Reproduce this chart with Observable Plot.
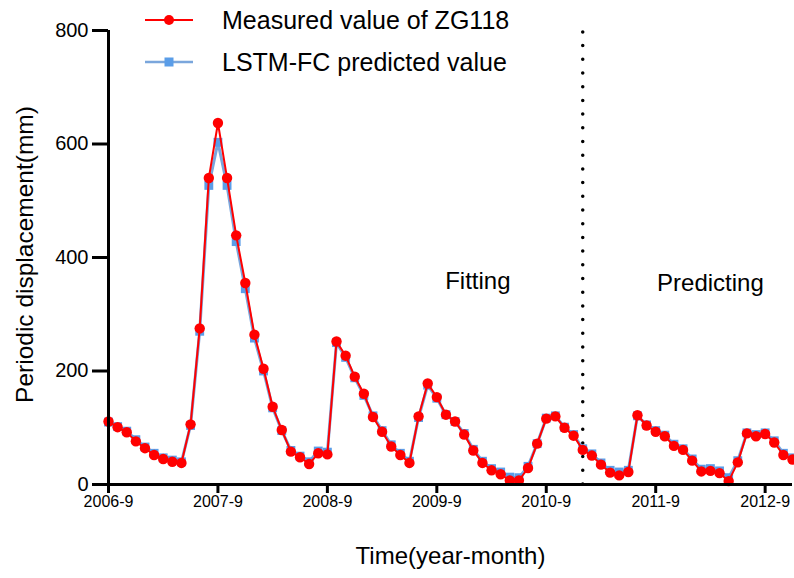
<!DOCTYPE html>
<html>
<head>
<meta charset="utf-8">
<script src="https://cdn.jsdelivr.net/npm/d3@7"></script>
<script src="https://cdn.jsdelivr.net/npm/@observablehq/plot@0.6"></script>
<style>
  html, body { margin: 0; padding: 0; background: #fff; }
  #chart svg { display: block; }
  #chart svg g[aria-label="x-axis tick label"] text { font-size: 16px !important; }
  #chart svg g[aria-label="y-axis tick label"] text { font-size: 20px !important; }
</style>
</head>
<body>
<div id="chart"></div>
<script>
// ---- data (monthly, index 0 = 2006-9) ----
const tickMonths = [0, 12, 24, 36, 48, 60, 72];
const tickLabels = ["2006-9", "2007-9", "2008-9", "2009-9", "2010-9", "2011-9", "2012-9"];
const yTicks = [0, 200, 400, 600, 800];
const splitMonth = 52; // boundary between fitting and predicting
const seriesNames = ["Measured value of ZG118", "LSTM-FC predicted value"];
const annotations = ["Fitting", "Predicting"];
const annotationMonth = [40.5, 66];
const annotationValue = [358, 355];

const measured = [
  111, 101, 92, 76, 64, 52, 45, 40, 38, 106,
  275, 540, 637, 540, 439, 355, 264, 204, 137, 96,
  58, 48, 36, 55, 53, 252, 227, 190, 160, 119,
  93, 67, 52, 38, 120, 178, 154, 123, 111, 88,
  60, 38, 25, 18, 7, 7, 29, 72, 116, 120,
  100, 86, 61, 51, 35, 21, 16, 22, 122, 104,
  93, 85, 68, 61, 42, 23, 24, 20, 6, 39,
  90, 85, 89, 74, 52, 44
];
const predicted = [
  110, 102, 94, 79, 66, 55, 47, 43, 40, 104,
  270, 527, 603, 527, 428, 345, 258, 200, 135, 95,
  60, 50, 40, 59, 57, 250, 224, 188, 157, 121,
  95, 70, 55, 41, 118, 175, 152, 123, 111, 90,
  62, 41, 28, 22, 13, 12, 32, 72, 117, 121,
  101, 88, 63, 54, 38, 25, 22, 25, 121, 105,
  95, 87, 71, 63, 45, 27, 28, 24, 12, 42,
  91, 88, 91, 77, 55, 47
];

const data = measured.map((v, i) => ({ m: i, measured: v, predicted: predicted[i] }));
const notes = annotations.map((t, i) => ({ t, m: annotationMonth[i], v: annotationValue[i] }));

const RED = "#ff0000";
const BLUE_LINE = "#7aa6dc";
const BLUE_SQ = "#5a9de8";
const FONT = "'Liberation Sans', Arial, sans-serif";

const chart = Plot.plot({
  width: 794,
  height: 578,
  marginLeft: 108,
  marginRight: 2,
  marginTop: 30,
  marginBottom: 94,
  x: { domain: [0, 75] },
  y: { domain: [0, 800] },
  style: { fontFamily: FONT, color: "#000", background: "#fff", overflow: "visible" },
  marks: [
    Plot.ruleX([splitMonth], { y1: 0, y2: 800, stroke: "#000", strokeWidth: 3.5, strokeDasharray: "0 13.7", strokeLinecap: "round" }),
    Plot.line(data, { x: "m", y: "predicted", stroke: BLUE_LINE, strokeWidth: 3 }),
    Plot.dot(data, { x: "m", y: "predicted", symbol: "square", r: 5, fill: BLUE_SQ, stroke: null }),
    Plot.line(data, { x: "m", y: "measured", stroke: RED, strokeWidth: 2 }),
    Plot.dot(data, { x: "m", y: "measured", r: 5.2, fill: RED, stroke: null }),
    Plot.axisX({
      ticks: tickMonths,
      tickFormat: d => tickLabels[tickMonths.indexOf(d)],
      tickSize: 9, strokeWidth: 3, tickPadding: 2, fontSize: 16,
      label: null
    }),
    Plot.axisY({
      ticks: yTicks, tickSize: 16, strokeWidth: 3, tickPadding: 4, fontSize: 20,
      label: null
    }),
    Plot.ruleY([0], { strokeWidth: 3, stroke: "#000" }),
    Plot.ruleX([0], { strokeWidth: 3, stroke: "#000" }),
    Plot.text(notes, { x: "m", y: "v", text: "t", fontSize: 24, fill: "#000" }),
    Plot.text(["Time(year-month)"], { frameAnchor: "bottom", textAnchor: "middle", lineAnchor: "middle", dy: 72, fontSize: 24, fill: "#000" }),
    Plot.text(["Periodic displacement(mm)"], { frameAnchor: "left", textAnchor: "middle", lineAnchor: "middle", dx: -83, dy: -3, rotate: -90, fontSize: 24.5, fill: "#000" })
  ]
});

const svg = d3.select(chart);

// legend drawn inside the top of the svg
const lg = svg.append("g").attr("font-family", FONT).attr("font-size", 25).attr("text-anchor", "start");
const legendY = [20, 62];
const legendColors = [RED, BLUE_LINE];
seriesNames.forEach((name, i) => {
  const g = lg.append("g").attr("transform", `translate(0,${legendY[i]})`);
  g.append("line").attr("x1", 145).attr("x2", 193).attr("y1", 0).attr("y2", 0)
    .attr("stroke", legendColors[i]).attr("stroke-width", i === 0 ? 2 : 2.5);
  if (i === 0) {
    g.append("circle").attr("cx", 169).attr("cy", 0).attr("r", 5).attr("fill", RED);
  } else {
    g.append("rect").attr("x", 164.5).attr("y", -4.5).attr("width", 9).attr("height", 9).attr("fill", BLUE_SQ);
  }
  g.append("text").attr("x", 222).attr("y", 0).attr("dy", "0.35em").attr("fill", "#000").text(name);
});

document.getElementById("chart").appendChild(chart);
</script>
</body>
</html>
